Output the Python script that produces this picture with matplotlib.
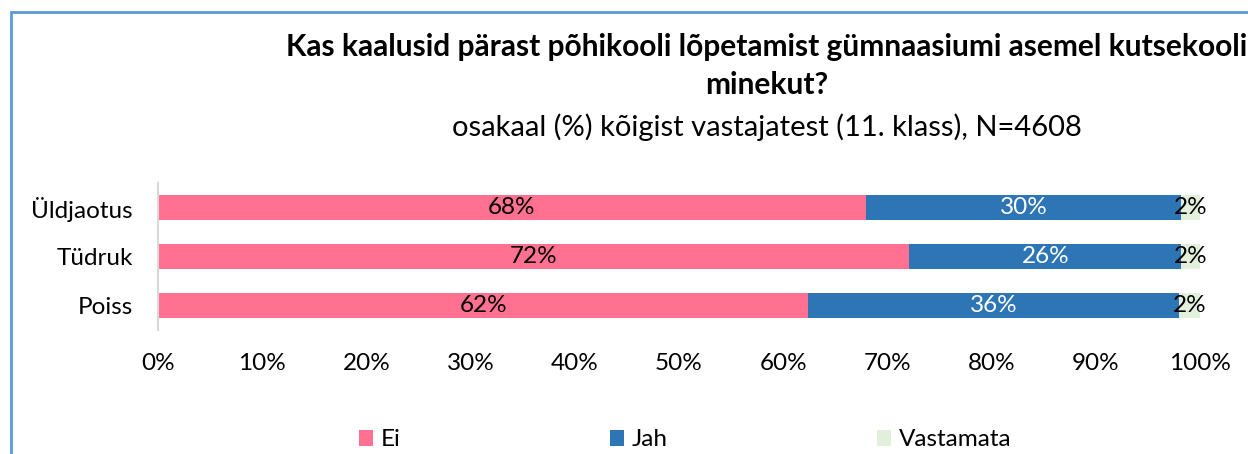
import matplotlib
matplotlib.use('Agg')
from matplotlib import pyplot as plt
from matplotlib.patches import Rectangle

plt.rcParams['font.family'] = ['Lato', 'DejaVu Sans']

# data
groups = ['Poiss', 'Tüdruk', 'Üldjaotus']
ei = [62.4, 72.1, 67.9]
jah = [35.6, 26.1, 30.3]
vastamata = [2.0, 1.8, 1.8]
series_names = ['Ei', 'Jah', 'Vastamata']
ticks = [0, 10, 20, 30, 40, 50, 60, 70, 80, 90, 100]

colors = ['#FF7091', '#2E75B6', '#E2EFDA']
label_colors = ['black', 'white', 'black']

fig = plt.figure(figsize=(12.48, 4.54), dpi=100)
W, H = 1248, 454

# outer chart border (cropped on right / bottom)
fig.patches.append(Rectangle((11 / W, -0.1), 1.2, 1 - 12 / H + 0.1, transform=fig.transFigure,
                             fill=False, edgecolor='#5B9BD5', linewidth=2))

ax = fig.add_axes([158 / W, 1 - 329.5 / H, (1200 - 158) / W, (329.5 - 183) / H])

left = [0, 0, 0]
for vals, name, c, lc in zip([ei, jah, vastamata], series_names, colors, label_colors):
    bars = ax.barh(groups, vals, left=left, height=0.51, color=c, label=name)
    for b, v, l in zip(bars, vals, left):
        ax.text(l + v / 2, b.get_y() + b.get_height() / 2, f'{round(v):.0f}%',
                ha='center', va='center', color=lc, fontsize=17.5)
    left = [a + b for a, b in zip(left, vals)]

ax.set_xlim(0, 100)
ax.set_ylim(-0.5, 2.5)
ax.set_xticks(ticks)
ax.set_xticklabels([f'{t}%' for t in ticks], fontsize=17.5)
ax.tick_params(axis='x', length=0, pad=17)
ax.tick_params(axis='y', length=0, pad=18, labelsize=17.5)
for s in ['top', 'right', 'bottom']:
    ax.spines[s].set_visible(False)
ax.spines['left'].set_color('#D9D9D9')
ax.spines['left'].set_linewidth(1.5)

fig.text(767 / W, 1 - 47 / H, 'Kas kaalusid pärast põhikooli lõpetamist gümnaasiumi asemel kutsekooli',
         ha='center', va='center', fontsize=21.5, fontweight='bold')
fig.text(767 / W, 1 - 85 / H, 'minekut?', ha='center', va='center', fontsize=21.5, fontweight='bold')
fig.text(767 / W, 1 - 127 / H, 'osakaal (%) kõigist vastajatest (11. klass), N=4608',
         ha='center', va='center', fontsize=21)

fig.legend(loc='center', bbox_to_anchor=(685 / W, 1 - 440 / H), ncol=3, frameon=False,
           fontsize=17.5, columnspacing=8.6, handlelength=0.6, handleheight=0.6, handletextpad=0.3)

fig.savefig('out.png', dpi=100)
